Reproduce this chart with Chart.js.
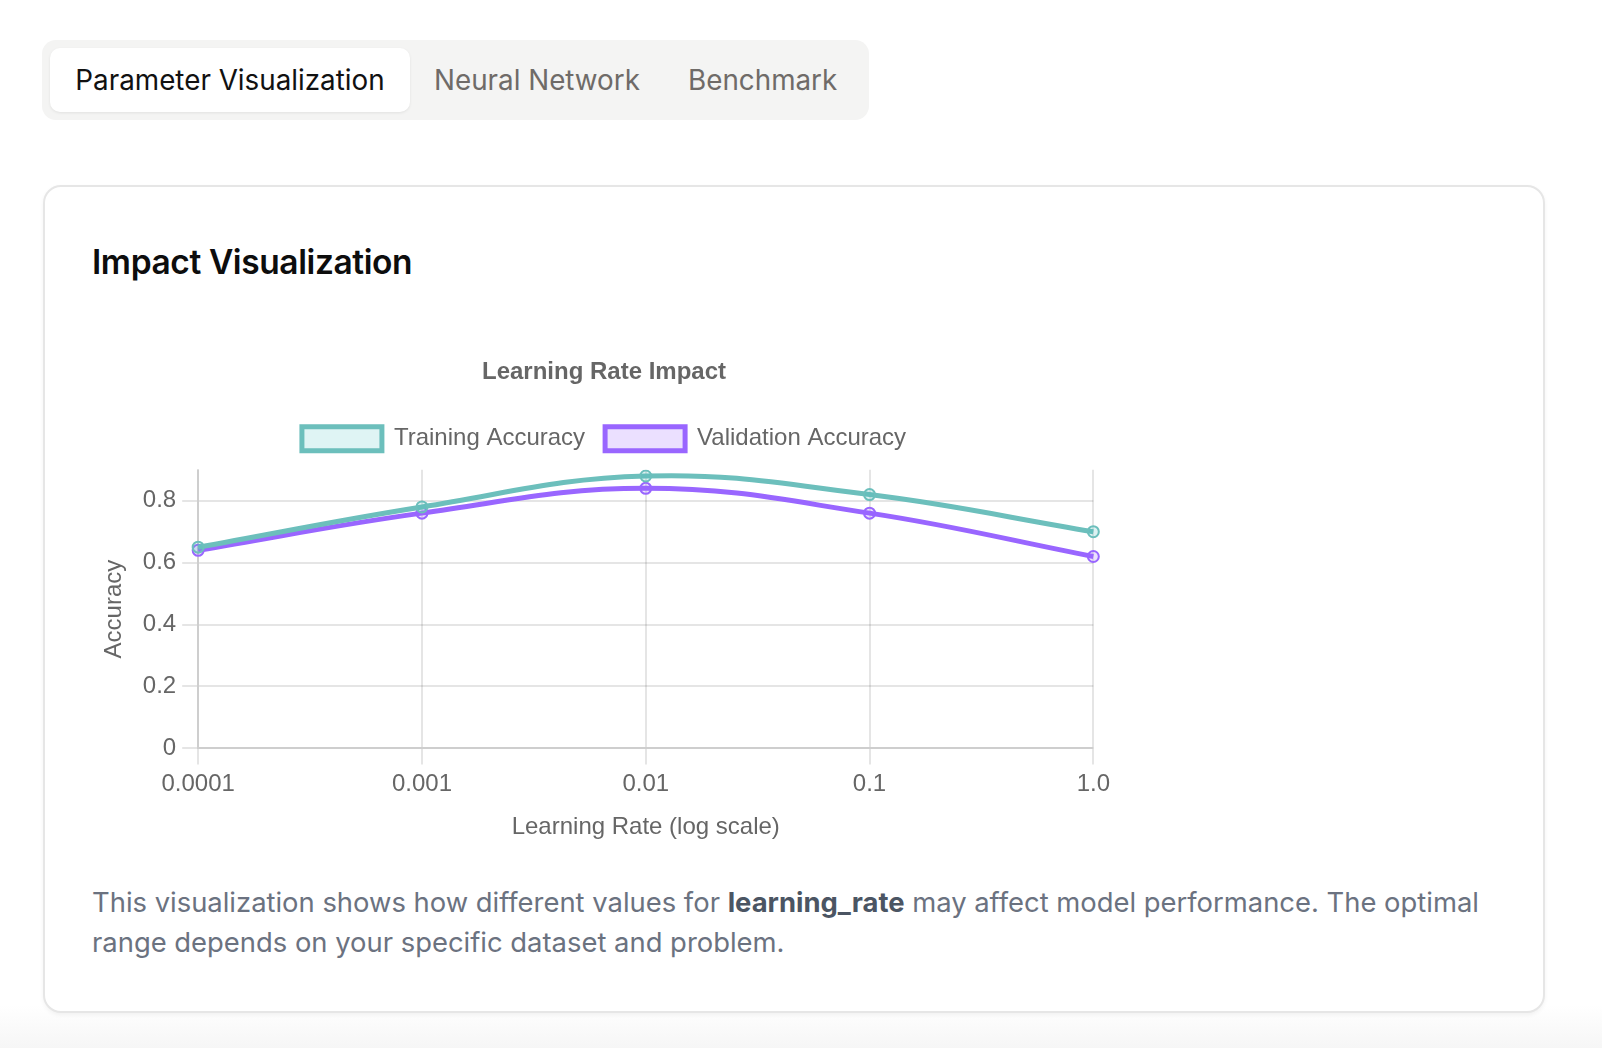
<!DOCTYPE html>
<html>
<head>
<meta charset="utf-8">
<script src="https://cdn.jsdelivr.net/npm/chart.js@4"></script>
<style>
  html, body { margin: 0; padding: 0; }
  body {
    width: 1602px; height: 1048px; position: relative; overflow: hidden;
    background: linear-gradient(to bottom, #ffffff 0px, #ffffff 1005px, #f6f6f6 1048px);
    font-family: Inter, "Noto Sans", sans-serif;
  }
  .tabs {
    position: absolute; left: 42px; top: 40px; width: 827px; height: 80px;
    background: #f4f4f3; border-radius: 14px;
  }
  .tab {
    position: absolute; top: 8px; height: 64px; line-height: 64px;
    font-size: 27.8px; color: #6f6b68; white-space: nowrap;
  }
  .tab.active {
    left: 8px; width: 360px; text-align: center; background: #fff; color: #111;
    border-radius: 10px; box-shadow: 0 1px 3px rgba(0,0,0,0.08);
  }
  .card {
    position: absolute; left: 43px; top: 185px; width: 1498px; height: 824px;
    border: 2px solid #e6e6e6; border-radius: 18px; background: #fff;
    box-shadow: 0 2px 4px rgba(0,0,0,0.05);
  }
  h2 {
    position: absolute; left: 92px; top: 242px; margin: 0;
    font-size: 33.5px; font-weight: 600; color: #0d0d0d; letter-spacing: -0.4px;
  }
  .chartbox { position: absolute; left: 92px; top: 338px; width: 1024px; height: 512px; }
  p.desc {
    position: absolute; left: 92px; top: 882px; width: 1410px; margin: 0;
    font-size: 27.4px; line-height: 40px; color: #6b7280;
  }
  p.desc b { color: #4b5563; font-weight: 700; }
</style>
</head>
<body>
<div class="tabs">
  <div class="tab active">Parameter Visualization</div>
  <div class="tab" style="left:392px">Neural Network</div>
  <div class="tab" style="left:646px">Benchmark</div>
</div>
<div class="card"></div>
<h2>Impact Visualization</h2>
<div class="chartbox"><canvas id="c" width="1024" height="512"></canvas></div>
<p class="desc">This visualization shows how different values for <b>learning_rate</b> may affect model performance. The optimal range depends on your specific dataset and problem.</p>
<script>
const learningRates = ["0.0001", "0.001", "0.01", "0.1", "1.0"];
const trainingAccuracy = [0.65, 0.78, 0.88, 0.82, 0.70];
const validationAccuracy = [0.64, 0.76, 0.84, 0.76, 0.62];
const yTickValues = [0, 0.2, 0.4, 0.6, 0.8];
const yMax = 0.9;

const chartFont = { family: '"Liberation Sans", Arial, Helvetica, sans-serif', size: 24 };
Chart.defaults.font = chartFont;
Chart.defaults.color = '#666';

const legendGap = {
  id: 'legendGap',
  beforeInit(chart) {
    const origFit = chart.legend.fit;
    chart.legend.fit = function () {
      origFit.call(this);
      this.height += 9;
    };
  }
};

new Chart(document.getElementById('c'), {
  type: 'line',
  plugins: [legendGap],
  data: {
    labels: learningRates,
    datasets: [
      {
        label: 'Training Accuracy',
        data: trainingAccuracy,
        borderColor: 'rgb(108,191,188)',
        backgroundColor: 'rgba(75,192,192,0.18)',
        borderWidth: 5,
        tension: 0.4,
        pointRadius: 5.5,
        pointBorderWidth: 2,
        pointBackgroundColor: 'rgba(75,192,192,0.2)',
        fill: false
      },
      {
        label: 'Validation Accuracy',
        data: validationAccuracy,
        borderColor: 'rgb(153,102,255)',
        backgroundColor: 'rgba(153,102,255,0.2)',
        borderWidth: 5,
        tension: 0.4,
        pointRadius: 5.5,
        pointBorderWidth: 2,
        pointBackgroundColor: 'rgba(153,102,255,0.2)',
        fill: false
      }
    ]
  },
  options: {
    responsive: false,
    animation: false,
    devicePixelRatio: 1,
    layout: { padding: 0 },
    plugins: {
      title: {
        display: true,
        text: 'Learning Rate Impact',
        font: { size: 24, weight: 'bold' },
        padding: { top: 20, bottom: 20 }
      },
      legend: {
        labels: { boxWidth: 80, boxHeight: 24, padding: 20, font: { size: 24 } }
      },
      tooltip: { enabled: false }
    },
    scales: {
      x: {
        grid: { color: 'rgba(0,0,0,0.1)', lineWidth: 2, tickLength: 16 },
        border: { width: 2 },
        ticks: { padding: 6, maxRotation: 0 },
        title: { display: true, text: 'Learning Rate (log scale)', padding: 8 }
      },
      y: {
        min: 0,
        max: yMax,
        grid: { color: 'rgba(0,0,0,0.1)', lineWidth: 2, tickLength: 16 },
        border: { width: 2 },
        ticks: { padding: 6 },
        afterBuildTicks: (scale) => { scale.ticks = yTickValues.map(v => ({ value: v })); },
        title: { display: true, text: 'Accuracy', padding: 8 }
      }
    }
  }
});
</script>
</body>
</html>
